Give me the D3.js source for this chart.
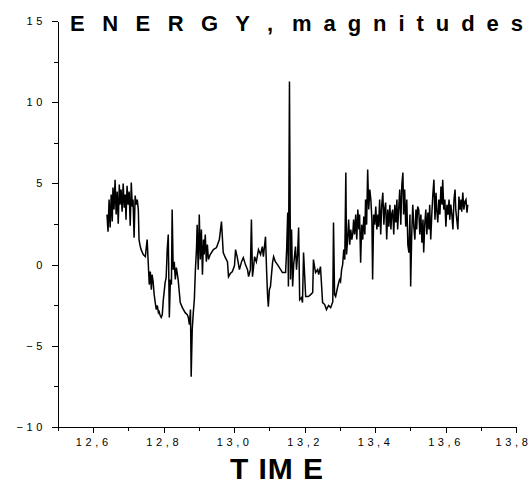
<!DOCTYPE html>
<meta charset="utf-8">
<style>
body { margin: 0; background: #fff; }
.axis text { font: 11px Arial, "Liberation Sans", sans-serif; letter-spacing: 3.6px; fill: #000; }
.axis path, .axis line { fill: none; stroke: #000; stroke-width: 1; shape-rendering: crispEdges; }
.title { font: bold 22px Arial, "Liberation Sans", sans-serif; }
.xlabel { font: bold 30px Arial, "Liberation Sans", sans-serif; }
</style>
<body>
<div id="chart"></div>
<script src="https://cdnjs.cloudflare.com/ajax/libs/d3/7.8.5/d3.min.js"></script>
<script>
// TIME values
var time = [12.639,12.642,12.645,12.648,12.651,12.654,12.656,12.659,12.662,12.665,12.668,12.671,12.674,12.676,12.679,12.682,12.685,12.688,12.691,12.693,
  12.696,12.699,12.702,12.705,12.708,12.711,12.713,12.716,12.719,12.722,12.725,12.728,12.730,12.733,12.736,12.742,12.748,12.750,12.753,12.756,
  12.759,12.762,12.765,12.767,12.770,12.773,12.776,12.779,12.782,12.785,12.787,12.790,12.793,12.796,12.799,12.802,12.804,12.807,12.810,12.813,
  12.816,12.819,12.822,12.824,12.827,12.830,12.833,12.836,12.839,12.841,12.847,12.853,12.861,12.867,12.870,12.873,12.876,12.878,12.881,12.884,
  12.887,12.890,12.893,12.895,12.898,12.901,12.904,12.907,12.910,12.913,12.915,12.918,12.921,12.924,12.927,12.932,12.941,12.950,12.958,12.964,
  12.969,12.975,12.981,12.984,12.989,12.995,13.001,13.004,13.009,13.015,13.021,13.026,13.032,13.038,13.041,13.046,13.049,13.052,13.055,13.058,
  13.063,13.069,13.075,13.080,13.083,13.089,13.092,13.095,13.097,13.100,13.103,13.109,13.112,13.117,13.123,13.132,13.137,13.146,13.149,13.152,
  13.154,13.157,13.160,13.163,13.166,13.169,13.174,13.177,13.180,13.183,13.186,13.191,13.194,13.197,13.203,13.211,13.217,13.223,13.225,13.231,
  13.237,13.240,13.245,13.251,13.257,13.262,13.268,13.274,13.280,13.282,13.285,13.288,13.294,13.299,13.302,13.305,13.308,13.311,13.314,13.317,
  13.319,13.322,13.325,13.328,13.331,13.334,13.337,13.339,13.342,13.345,13.348,13.351,13.354,13.356,13.359,13.362,13.365,13.368,13.371,13.373,
  13.376,13.379,13.382,13.385,13.388,13.391,13.393,13.396,13.399,13.402,13.405,13.408,13.410,13.413,13.416,13.419,13.422,13.425,13.427,13.430,
  13.433,13.436,13.439,13.442,13.445,13.447,13.450,13.453,13.456,13.459,13.462,13.464,13.467,13.470,13.473,13.476,13.479,13.481,13.484,13.487,
  13.490,13.493,13.496,13.499,13.501,13.504,13.507,13.510,13.513,13.516,13.518,13.521,13.524,13.527,13.530,13.533,13.536,13.538,13.541,13.544,
  13.547,13.550,13.553,13.555,13.558,13.561,13.564,13.567,13.570,13.573,13.575,13.578,13.581,13.584,13.587,13.590,13.592,13.595,13.598,13.601,
  13.604,13.607,13.610,13.612,13.615,13.618,13.621,13.624,13.627,13.629,13.632,13.635,13.638,13.641,13.644,13.646,13.649,13.652,13.655,13.658,
  13.661,13.663];
// ENERGY, magnitudes
var energy = [3.08,2.03,4.00,2.28,4.31,2.65,4.74,3.39,5.23,3.08,4.50,2.52,4.93,3.69,4.62,3.26,4.99,3.51,4.31,2.77,
  4.86,3.69,4.50,2.40,5.05,3.57,4.00,1.66,4.25,3.69,4.00,3.39,1.54,1.17,0.92,0.62,0.49,0.92,1.54,0.18,
  -1.23,-0.43,-1.54,-0.62,-1.05,-1.85,-2.34,-2.77,-2.52,-2.96,-2.89,-3.14,-3.26,-3.08,-2.16,-1.54,-1.11,-0.80,0.92,1.85,
  -3.26,-0.92,-1.23,3.39,-0.31,0.18,-0.92,-0.18,-0.62,-0.92,-2.34,-2.65,-2.96,-3.08,-3.26,-3.69,-2.77,-6.90,-4.00,-2.96,
  -2.16,-0.31,0.92,2.46,-0.31,3.08,0.31,2.16,-0.62,1.54,0.62,1.85,0.18,1.23,0.31,0.62,0.92,1.05,1.54,2.65,
  0.74,0.43,0.18,-0.74,-0.55,-0.43,-0.06,0.92,0.43,-0.31,0.18,0.43,0,-0.31,-0.74,-0.31,2.77,-0.74,-0.18,0.49,
  0.18,0.92,0.62,1.11,0.49,1.72,-0.31,-1.97,-2.59,-1.54,-1.35,0.12,0.49,0.18,0,-0.31,-0.49,-0.49,0.92,3.20,
  -1.35,11.27,-0.92,2.16,-1.35,0,1.11,-0.31,0.62,2.28,-2.16,-2.03,-2.34,0.74,-1.97,-1.97,-1.85,-1.72,0.31,-0.49,
  -0.31,-0.62,-0.12,-2.34,-2.46,-2.77,-2.52,-2.65,-2.28,2.59,-1.85,-1.97,-1.35,-0.92,-1.05,-0.31,0,0.92,0.31,5.67,
  0.62,1.54,2.77,1.23,2.16,1.54,1.97,2.77,1.85,3.08,1.54,3.39,2.16,3.08,0.12,2.46,1.54,2.96,1.85,4.00,
  2.46,5.85,3.39,4.62,4.00,2.77,-0.92,3.08,2.46,3.57,2.16,3.08,2.34,4.00,1.85,3.69,4.43,2.46,3.39,3.82,
  1.54,3.39,2.34,3.69,2.16,3.08,3.39,1.85,3.69,2.59,4.00,2.16,3.39,4.62,2.46,4.93,5.67,3.08,4.62,2.34,
  4.00,1.23,0.74,3.08,-1.35,1.85,3.69,2.34,1.54,3.39,2.16,3.57,3.39,1.85,3.08,1.35,2.77,0.74,2.46,3.39,
  1.85,3.20,2.16,3.69,1.54,3.08,4.31,5.23,2.77,4.43,3.39,2.59,4.00,3.08,4.80,3.69,5.23,3.39,4.00,2.34,
  3.69,3.08,4.00,2.77,3.69,3.08,2.16,4.00,4.62,3.39,2.77,2.16,4.19,3.39,4.00,3.26,4.43,3.39,3.88,4.00,
  3.20,3.69];

var yTicks = [-10, -5, 0, 5, 10, 15];
var yMinor = [-7.5, -2.5, 2.5, 7.5, 12.5];
var xTicks = [12.6, 12.8, 13.0, 13.2, 13.4, 13.6, 13.8];
var xMinor = [12.5, 12.7, 12.9, 13.1, 13.3, 13.5, 13.7];

var W = 532, H = 490;
var plotLeft = 58, plotRight = 516, plotTop = 21, plotBottom = 427;

var svg = d3.select("#chart").append("svg").attr("width", W).attr("height", H);

var x = d3.scaleLinear().domain([12.5, 13.8]).range([plotLeft, plotRight]);
var y = d3.scaleLinear().domain([-10, 15]).range([plotBottom, plotTop]);

function comma(d) { return d3.format(".1f")(d).replace(".", ","); }

// minor ticks
svg.append("g").attr("class", "axis").attr("transform", "translate(0," + plotBottom + ")")
  .call(d3.axisBottom(x).tickValues(xMinor).tickSize(4).tickSizeOuter(0).tickFormat(""));
svg.append("g").attr("class", "axis").attr("transform", "translate(" + plotLeft + ",0)")
  .call(d3.axisLeft(y).tickValues(yMinor).tickSize(4).tickSizeOuter(0).tickFormat(""));

// major ticks
var xAxis = svg.append("g").attr("class", "axis").attr("transform", "translate(0," + plotBottom + ")")
  .call(d3.axisBottom(x).tickValues(xTicks).tickSize(6).tickPadding(5).tickSizeOuter(0).tickFormat(comma));
// keep the last label inside the window
xAxis.selectAll("text").filter(function(d) { return d === 13.8; }).attr("dx", "-3px");
svg.append("g").attr("class", "axis").attr("transform", "translate(" + plotLeft + ",0)")
  .call(d3.axisLeft(y).tickValues(yTicks).tickSize(6).tickPadding(6).tickSizeOuter(0).tickFormat(d3.format("d")));

var line = d3.line().x(function(d, i) { return x(time[i]); }).y(function(d) { return y(d); });

svg.append("path")
  .datum(energy)
  .attr("fill", "none")
  .attr("stroke", "#000")
  .attr("stroke-width", 1.5)
  .attr("d", line);

svg.append("text")
  .attr("class", "title")
  .attr("x", 70).attr("y", 31)
  .attr("textLength", 203).attr("lengthAdjust", "spacing")
  .text("E N E R G Y ,");
svg.append("text")
  .attr("class", "title")
  .attr("x", 292).attr("y", 31)
  .attr("textLength", 231).attr("lengthAdjust", "spacing")
  .text("m a g n i t u d e s");

svg.append("text")
  .attr("class", "xlabel")
  .attr("x", 230).attr("y", 479)
  .attr("textLength", 93).attr("lengthAdjust", "spacing")
  .text("T IM E");
</script>
</body>
